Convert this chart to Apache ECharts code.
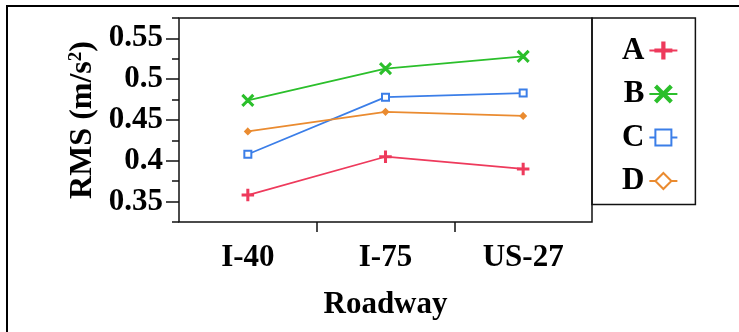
<!DOCTYPE html>
<html>
<head>
<meta charset="utf-8">
<script src="https://cdn.jsdelivr.net/npm/echarts@6/dist/echarts.min.js"></script>
<style>
  html, body { margin: 0; padding: 0; background: #fff; }
  #chart { width: 739px; height: 332px; }
</style>
</head>
<body>
<div id="chart"></div>
<script>
// Roadway categories and RMS acceleration (m/s²) per configuration
const categories = ['I-40', 'I-75', 'US-27'];
const seriesNames = ['A', 'B', 'C', 'D'];
const valuesA = [0.358, 0.405, 0.390];
const valuesB = [0.474, 0.513, 0.528];
const valuesC = [0.408, 0.478, 0.483];
const valuesD = [0.436, 0.460, 0.455];

// y range and tick steps
const yMin = 0.325, yMax = 0.575, yMinorStep = 0.025;
const yLabelMin = 0.35, yLabelMax = 0.55, yMajorStep = 0.05;

const colors = ['#ee3a5c', '#2bbf2b', '#3b7ee8', '#ea8b30'];
const FONT = '"Liberation Serif", "Times New Roman", serif';

// plot box
const plotLeft = 179, plotTop = 18, plotWidth = 413, plotHeight = 204;
const pxPerUnit = plotHeight / (yMax - yMin);
const majorTop = plotTop + (yMax - yLabelMax) * pxPerUnit;
const majorHeight = (yLabelMax - yLabelMin) * pxPerUnit;

const plusPath = 'path://M4.3,0H5.7V4.3H10V5.7H5.7V10H4.3V5.7H0V4.3H4.3Z';
const crossPath = 'path://M0,1L1,0L5,4L9,0L10,1L6,5L10,9L9,10L5,6L1,10L0,9L4,5Z';
// series-level symbol (used by the legend icon) and the symbol drawn on each point
const legendSymbols = [plusPath, crossPath, 'emptyRect', 'emptyDiamond'];
const pointSymbols = [plusPath, crossPath, 'emptyRect', 'diamond'];
const symbolSizes = [11, 11, 7, 6];
const seriesValues = [valuesA, valuesB, valuesC, valuesD];

const chart = echarts.init(document.getElementById('chart'), null, { renderer: 'canvas' });

const option = {
  animation: false,
  backgroundColor: '#fff',
  graphic: [
    { type: 'line', shape: { x1: 6, y1: 6, x2: 739, y2: 6 }, style: { stroke: '#000', lineWidth: 2 } },
    { type: 'line', shape: { x1: 7, y1: 5, x2: 7, y2: 332 }, style: { stroke: '#000', lineWidth: 2 } }
  ],
  grid: [
    { left: plotLeft, top: plotTop, width: plotWidth, height: plotHeight,
      show: true, borderColor: '#111', borderWidth: 1.5, containLabel: false },
    { left: plotLeft, top: majorTop, width: plotWidth, height: majorHeight, containLabel: false },
    { left: plotLeft, top: plotTop, width: plotWidth, height: plotHeight, containLabel: false }
  ],
  legend: {
    orient: 'vertical',
    left: 592,
    top: 18,
    align: 'right',
    padding: [17, 17, 8, 30],
    itemGap: 12.5,
    itemWidth: 28,
    itemHeight: 20,
    borderColor: '#111',
    borderWidth: 1.5,
    lineStyle: { width: 2 },
    textStyle: { fontFamily: FONT, fontWeight: 'bold', fontSize: 31, color: '#000' },
    data: seriesNames
  },
  xAxis: [
    {
      gridIndex: 0, type: 'category', data: categories, boundaryGap: true,
      axisLine: { show: false }, axisTick: { show: false },
      axisLabel: { fontFamily: FONT, fontWeight: 'bold', fontSize: 31, color: '#000', margin: 20 },
      name: 'Roadway', nameLocation: 'middle', nameGap: 67,
      nameTextStyle: { fontFamily: FONT, fontWeight: 'bold', fontSize: 31, color: '#000' }
    },
    { gridIndex: 1, type: 'category', data: categories, show: false },
    {
      gridIndex: 2, type: 'category', data: ['', '', '', ''], boundaryGap: false,
      axisLine: { show: false },
      axisTick: { show: true, length: 10, lineStyle: { color: '#111', width: 1.5 },
                  interval: function (i) { return i === 1 || i === 2; } },
      axisLabel: { show: false }, splitLine: { show: false }
    }
  ],
  yAxis: [
    {
      gridIndex: 0, type: 'value', min: yMin, max: yMax, interval: yMinorStep,
      axisLine: { show: false },
      axisTick: { show: true, length: 7, lineStyle: { color: '#111', width: 1.5 } },
      axisLabel: { show: false }, splitLine: { show: false },
      name: '{a|RMS (m/s}{s|2}{a|)}', nameLocation: 'middle', nameGap: 80,
      nameTextStyle: {
        rich: {
          a: { fontFamily: FONT, fontWeight: 'bold', fontSize: 32, color: '#000' },
          s: { fontFamily: FONT, fontWeight: 'bold', fontSize: 19, color: '#000', verticalAlign: 'top' }
        }
      }
    },
    {
      gridIndex: 1, type: 'value', min: yLabelMin, max: yLabelMax, interval: yMajorStep,
      axisLine: { show: false },
      axisTick: { show: true, length: 13, lineStyle: { color: '#111', width: 1.5 } },
      axisLabel: {
        fontFamily: FONT, fontWeight: 'bold', fontSize: 31, color: '#000', margin: 16,
        formatter: function (v) { return String(+v.toFixed(2)); }
      },
      splitLine: { show: false }
    },
    { gridIndex: 2, type: 'value', min: yMin, max: yMax, show: false }
  ],
  series: seriesNames.map(function (name, i) {
    return {
      name: name, type: 'line', xAxisIndex: 0, yAxisIndex: 0,
      data: seriesValues[i].map(function (v) { return { value: v, symbol: pointSymbols[i] }; }),
      symbol: legendSymbols[i], symbolSize: symbolSizes[i],
      lineStyle: { color: colors[i], width: 1.7 },
      itemStyle: { color: colors[i], borderColor: colors[i], borderWidth: 1.5 }
    };
  })
};

chart.setOption(option);
</script>
</body>
</html>
